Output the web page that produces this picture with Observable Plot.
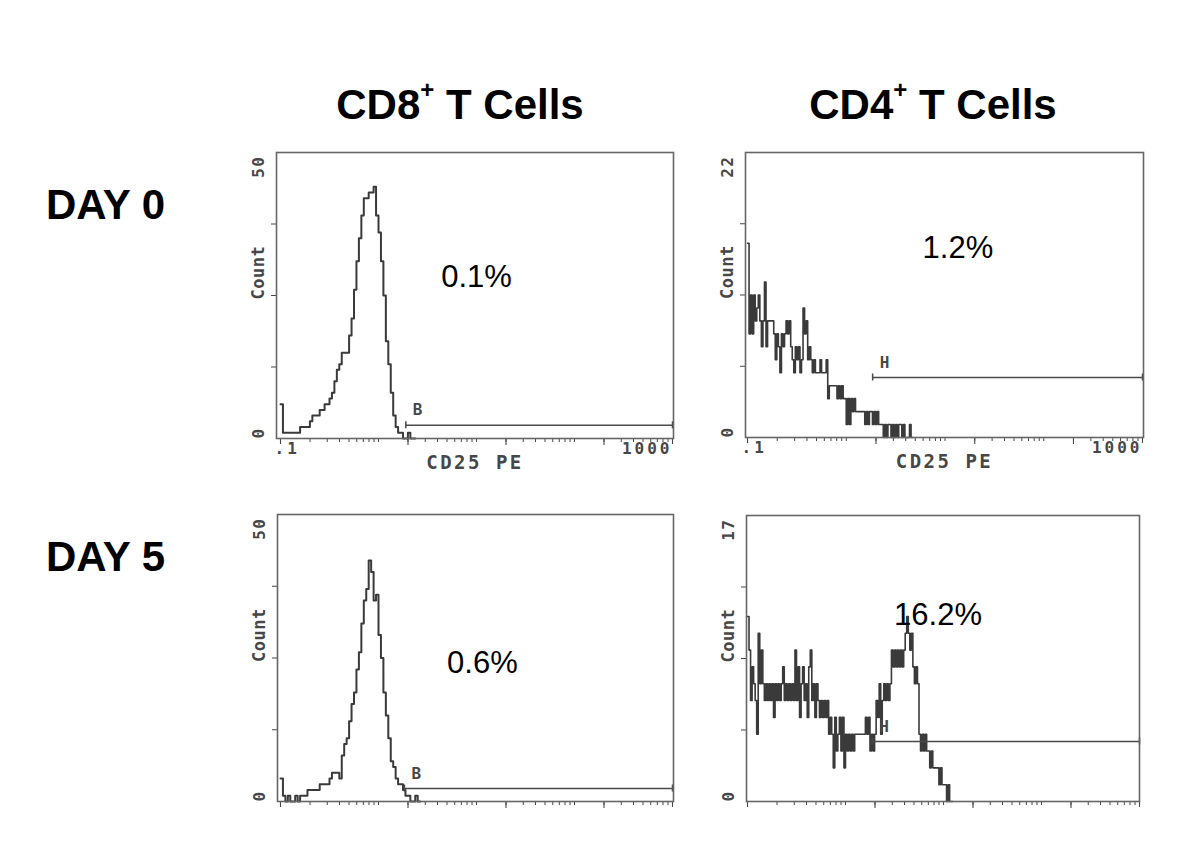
<!DOCTYPE html>
<html><head><meta charset="utf-8">
<script src="https://cdn.jsdelivr.net/npm/d3@7"></script>
<script src="https://cdn.jsdelivr.net/npm/@observablehq/plot@0.6"></script>
<style>
html,body{margin:0;padding:0;background:#fff}
body{width:1200px;height:849px;position:relative;overflow:hidden;font-family:"Liberation Sans",Arial,sans-serif}
.t{position:absolute;font-weight:bold;font-size:42px;line-height:1;color:#000;white-space:nowrap}
.t sup{font-size:24px;vertical-align:baseline;position:relative;top:-21px;line-height:0}
.p{position:absolute}
.p svg{display:block;max-width:none!important}
</style></head><body>
<div id="titles"></div>
<div id="p0" class="p"></div>
<div id="p1" class="p"></div>
<div id="p2" class="p"></div>
<div id="p3" class="p"></div>
<script>
// ---------------- data ----------------
const columnTitles = ["CD8", "CD4"];           // + superscript, " T Cells"
const rowTitles = ["DAY 0", "DAY 5"];
// histogram counts per channel, channels start at 0.1 and are log-spaced
const cd8Day0Counts = [6,1,1,1,1,1,1,1,2,2, 2,2,3,4,4,4,5,5,6,6, 7,8,10,12,13,15,15,15,18,21,
  26,31,35,39,42,42,43,43,44,39, 36,31,25,17,13,8,4,2,1,1, 0,0,1,0,0];
const cd4Day0Counts = [15,8,11,8,11,9,10,11,9,7, 9,12,7,9,9,9,9,8,6,8, 7,5,8,7,8,9,8,9,7,6,
  5,7,6,7,5,6,10,8,9,6, 7,6,5,6,5,5,5,6,5,5, 5,6,3,4,4,4,4,4,3,4, 3,4,3,3,1,3,1,3,2,3,
  2,2,2,2,2,2,1,2,1,2, 2,1,2,1,2,1,1,1,0,1, 0,1,1,0,1,0,1,0,1,1, 0,1,0,0,0,1,0];
const cd8Day5Counts = [4,1,0,1,0,0,1,0,1,1, 1,2,2,2,2,2,3,3,3,3, 4,5,5,5,4,8,10,11,14,17,
  19,23,26,31,35,37,42,40,35,36, 29,25,19,15,11,7,6,4,3,3, 2,1,1,0,0,1,0];
const cd4Day5Counts = [11,9,6,8,7,6,4,10,7,9, 7,6,7,6,7,6,7,5,7,6, 7,6,7,8,6,7,6,7,6,7,
  6,9,6,8,5,7,8,6,7,5, 8,9,6,7,5,7,6,5,6,5, 6,5,6,4,5,4,2,5,3,4, 5,3,5,2,4,3,4,3,4,3,
  4,4,4,4,4,4,4,5,4,5, 3,4,3,4,6,5,7,4,6,7, 6,7,6,7,9,8,9,8,9,8, 9,8,9,10,11,10,9,10,8,7,
  8,7,4,3,4,3,4,3,3,2, 3,2,2,2,2,1,2,1,1,1, 0,1,0,0];
const panelCounts = [cd8Day0Counts, cd4Day0Counts, cd8Day5Counts, cd4Day5Counts];
const channelsPerDecade = [40, 64, 40, 64];
const yAxisMax = [50, 22, 50, 17];
const gateName = ["B", "H", "B", "H"];
const gateStart = [1.9, 1.85, 1.84, 1.87];
const gateEnd = [1000, 1000, 1000, 1000];
const gateCount = [2.3, 4.63, 2.26, 3.57];
const pctText = ["0.1%", "1.2%", "0.6%", "16.2%"];
const pctX = [10, 13.5, 11.5, 8.8];
const pctY = [28.2, 14.6, 24.2, 11.06];
const xDomain = [0.1, 1000];
const xTickLabels = [".1", "1000"];
const xAxisLabel = "CD25 PE";
const yAxisLabel = "Count";
const longTicks = [2, 20, 200];

// ---------------- layout ----------------
const mL = 40, mR = 10, mT = 10, mB = 50;
const layout = [
  {left: 236, top: 142, fw: 397, fh: 286, x0: 4, x1: 1, labels: true},
  {left: 705, top: 142, fw: 398, fh: 285, x0: 2, x1: 1, labels: true},
  {left: 237, top: 504, fw: 396, fh: 287, x0: 3, x1: 1, labels: false},
  {left: 706, top: 505, fw: 393, fh: 286, x0: 1, x1: 0, labels: false}
];
const xTicks = [];
for (let e = -1; e < 3; e++) for (let k = 1; k < 10; k++) xTicks.push(+(k * Math.pow(10, e)).toPrecision(3));
xTicks.push(1000);

const mono = "'DejaVu Sans Mono', 'Liberation Mono', monospace";
const grey = "#474747";
const B = "bold";

function makePanel(k) {
  const L = layout[k];
  const ymax = yAxisMax[k];
  const counts = panelCounts[k];
  const cpd = channelsPerDecade[k];
  const bins = counts.map((c, i) => ({x: 0.1 * Math.pow(10, i / cpd), y: c}));
  bins.push({x: 0.1 * Math.pow(10, counts.length / cpd), y: 0});
  const gate = [{start: gateStart[k], end: gateEnd[k], count: gateCount[k], name: gateName[k]}];
  const cpp = ymax / L.fh; // counts per pixel
  const marks = [
    Plot.ruleX(longTicks, {x: d => d, y1: 0, y2: -7 * cpp, stroke: grey, strokeWidth: 1.1}),
    Plot.ruleX([0.1, 1000], {x: d => d, y1: 0, y2: -6 * cpp, stroke: grey, strokeWidth: 1.1}),
    Plot.line(bins, {x: "x", y: "y", curve: "step-after", stroke: "#3a3a3a", strokeWidth: cpd > 50 ? 1.6 : 2}),
    Plot.ruleY(gate, {y: "count", x1: "start", x2: "end", stroke: "#4a4a4a", strokeWidth: 1.5}),
    Plot.ruleX([gate[0].start, gate[0].end], {x: d => d, y1: gate[0].count - 3.5 * cpp, y2: gate[0].count + 3.5 * cpp, stroke: "#4a4a4a", strokeWidth: 1.5}),
    Plot.text(gate, {x: "start", y: "count", text: "name", textAnchor: "start", dx: 7, dy: -15, fill: grey, fontSize: 16, fontWeight: B, fontFamily: mono}),
    Plot.text([pctText[k]], {x: () => pctX[k], y: () => pctY[k], text: d => d, fontFamily: "'Liberation Sans', Arial, sans-serif", fontWeight: "normal", fontSize: 31, fill: "#000"}),
    Plot.frame({stroke: "#666", strokeWidth: 1.6}),
    Plot.text([ymax], {y: d => d, text: d => String(d), frameAnchor: "left", rotate: -90, textAnchor: "end", dx: -18, dy: 3, fill: grey, fontSize: 16, fontWeight: B, fontFamily: mono}),
    Plot.text([0], {y: d => d, text: d => String(d), frameAnchor: "left", rotate: -90, textAnchor: "start", dx: -18, fill: grey, fontSize: 16, fontWeight: B, fontFamily: mono}),
    Plot.text([yAxisLabel], {text: d => d, frameAnchor: "left", rotate: -90, dx: -18, dy: 4, fill: grey, fontSize: 17, fontWeight: B, fontFamily: mono})
  ];
  if (L.labels) {
    marks.push(
      Plot.text([xDomain[0]], {x: d => d, text: () => xTickLabels[0], frameAnchor: "bottom", textAnchor: "start", dx: -6, dy: 15, fill: grey, fontSize: 16, fontWeight: B, fontFamily: mono}),
      Plot.text([xDomain[1]], {x: d => d, text: () => xTickLabels[1], frameAnchor: "bottom", textAnchor: "end", dx: 0, dy: 15, fill: grey, fontSize: 16, fontWeight: B, fontFamily: mono}),
      Plot.text([xAxisLabel], {text: d => d, frameAnchor: "bottom", dy: 30, fontSize: 19, fill: grey, fontWeight: B, fontFamily: mono})
    );
  }
  const svg = Plot.plot({
    width: L.fw + mL + mR,
    height: L.fh + mT + mB,
    marginLeft: mL, marginRight: mR, marginTop: mT, marginBottom: mB,
    style: {fontFamily: mono, fontWeight: "bold", fontSize: "15px", color: grey, background: "transparent", overflow: "visible"},
    x: {type: "log", domain: xDomain, range: [mL + L.x0, mL + L.fw - L.x1], ticks: xTicks, tickSize: 4, tickFormat: () => "", label: null},
    y: {domain: [0, ymax], ticks: [ymax / 4, ymax / 2, 3 * ymax / 4], tickSize: 5, tickFormat: () => "", label: null},
    marks
  });
  // letter spacing for the wide, blocky instrument font
  const spacing = {".1": "3px", "1000": "3px", "CD25 PE": "2.5px", "Count": "0.5px", "0": "1.5px"};
  spacing[String(ymax)] = "1.5px";
  d3.select(svg).selectAll("text").each(function () {
    const t = this.textContent;
    if (spacing[t]) this.style.letterSpacing = spacing[t];
  });
  const host = document.getElementById("p" + k);
  host.style.left = L.left + "px";
  host.style.top = L.top + "px";
  host.style.width = (L.fw + mL + mR) + "px";
  host.style.height = (L.fh + mT + mB) + "px";
  host.appendChild(svg);
}
for (let k = 0; k < 4; k++) makePanel(k);

// ---------------- titles ----------------
const titles = document.getElementById("titles");
const colCenters = [460, 933];
columnTitles.forEach((t, i) => {
  const d = document.createElement("div");
  d.className = "t";
  d.style.left = (colCenters[i] - 200) + "px";
  d.style.width = "400px";
  d.style.textAlign = "center";
  d.style.top = (120 - 35.6) + "px";
  d.innerHTML = t + "<sup>+</sup> T Cells";
  titles.appendChild(d);
});
const rowBaselines = [220, 572];
rowTitles.forEach((t, i) => {
  const d = document.createElement("div");
  d.className = "t";
  d.style.left = "46px";
  d.style.top = (rowBaselines[i] - 35.6) + "px";
  d.textContent = t;
  titles.appendChild(d);
});
</script>
</body></html>
